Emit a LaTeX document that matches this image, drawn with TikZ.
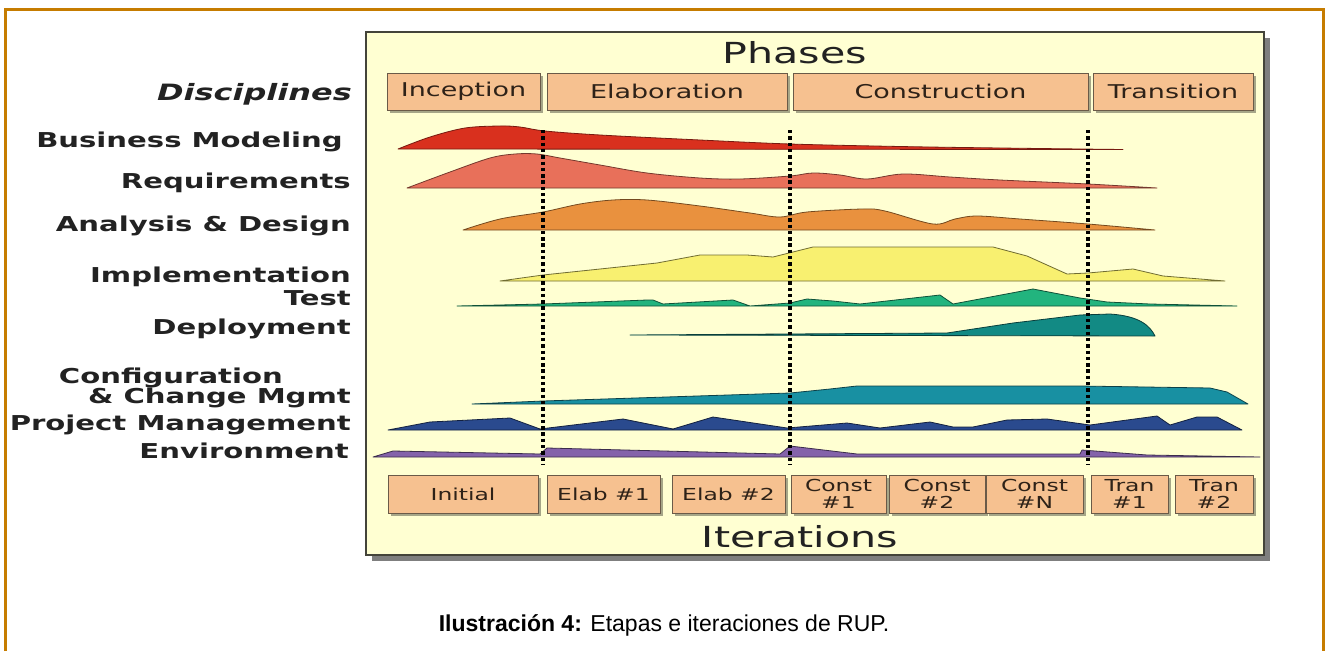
\documentclass[tikz,border=0pt]{standalone}
\usepackage{fontspec}
\usepackage{xcolor}
\usepackage{tikz}
\usetikzlibrary{shadows}
\newfontfamily\rupfont[FakeStretch=1.42]{DejaVu Sans}
\newfontfamily\capfont{Liberation Sans}
\definecolor{frameline}{HTML}{C67C00}
\definecolor{panelfill}{HTML}{FFFFD2}
\definecolor{panelline}{HTML}{44443A}
\definecolor{boxfill}{HTML}{F6C190}
\definecolor{boxline}{HTML}{6A5A48}
\definecolor{labeltext}{HTML}{222222}
\definecolor{boxtext}{HTML}{2E2218}
\definecolor{bmred}{HTML}{D9301E}
\definecolor{reqsalmon}{HTML}{E8705A}
\definecolor{adorange}{HTML}{E9913E}
\definecolor{implyellow}{HTML}{F8F070}
\definecolor{testgreen}{HTML}{22B47E}
\definecolor{depteal}{HTML}{128A84}
\definecolor{cfgblue}{HTML}{1890A2}
\definecolor{pmblue}{HTML}{2A4A8E}
\definecolor{envpurple}{HTML}{8462AA}
\newcommand{\discfont}{\rupfont\bfseries\fontsize{20.5}{21}\selectfont}
\newcommand{\phasefont}{\rupfont\fontsize{19}{20}\selectfont}
\newcommand{\iterfont}{\rupfont\fontsize{16.5}{17}\selectfont}
\newcommand{\titlefont}{\rupfont\fontsize{29}{30}\selectfont}
\tikzset{
  frame/.style={draw=frameline,line width=3pt},
  panel/.style={fill=panelfill,draw=panelline,line width=2.5pt,
    drop shadow={shadow xshift=6pt,shadow yshift=-6pt,opacity=0.5,fill=black}},
  phasebox/.style={draw=boxline,fill=boxfill,line width=1pt,minimum height=37pt,
    inner sep=0pt,font=\phasefont,text=boxtext,
    drop shadow={shadow xshift=3pt,shadow yshift=-3pt,opacity=0.35,fill=black}},
  iterbox/.style={phasebox,minimum height=38pt,font=\iterfont,align=center},
  title/.style={anchor=base,inner sep=0pt,font=\titlefont,text=labeltext},
  disc/.style={anchor=base east,inner sep=0pt,font=\discfont,text=labeltext,align=right},
  flow/.style={line width=0.8pt,line join=round},
  phaseline/.style={line width=3.4pt,dash pattern=on 3.4pt off 2.9pt},
  caption/.style={anchor=base,inner sep=0pt,font=\capfont\fontsize{23}{25}\selectfont},
}
\begin{document}
\begin{tikzpicture}[x=1pt,y=-1pt]
  \useasboundingbox (0,0) rectangle (1325,651);
  \fill[white] (0,0) rectangle (1325,651);
  \draw[frame] (5.5,651) |- (1323.5,9.5) -- (1323.5,651);
  \draw[panel] (366,32) rectangle (1264,555);
  % phases
  \node[title] (phases) at (795,63) {Phases};
  \node[phasebox,minimum width=153pt] (inc) at (463.5,91.5) {Inception};
  \node[phasebox,minimum width=240pt] (ela) at (667,91.5) {Elaboration};
  \node[phasebox,minimum width=295pt] (con) at (940.5,91.5) {Construction};
  \node[phasebox,minimum width=160pt] (tra) at (1173,91.5) {Transition};
  % disciplines
  \node[disc,font=\rupfont\bfseries\itshape\fontsize{22.5}{23}\selectfont] (dis) at (352,100) {Disciplines};
  \node[disc] (bm) at (343,147) {Business Modeling};
  \node[disc] (req) at (351,188) {Requirements};
  \node[disc] (ad) at (351,231) {Analysis \& Design};
  \node[disc] (impl) at (351,282) {Implementation};
  \node[disc] (test) at (351,305) {Test};
  \node[disc] (dep) at (351,334) {Deployment};
  \node[disc] (cfg) at (283,383) {Configuration};
  \node[disc] (ccm) at (351,403) {\& Change Mgmt};
  \node[disc] (pm) at (351,430) {Project Management};
  \node[disc] (env) at (349,458) {Environment};
  % workflow humps
  \filldraw[flow,fill=bmred,draw=bmred!55!black] plot[smooth,tension=0.55] coordinates {
    (398,149) (430,137) (465,128) (500,126) (520,127) (545,131) (600,135)
    (700,140) (790,144) (900,146.5) (1000,148) (1123,149.5)} -- cycle;
  \filldraw[flow,fill=reqsalmon,draw=reqsalmon!50!black] plot[smooth,tension=0.55] coordinates {
    (407,188) (450,172) (490,158) (515,154) (537,154) (560,158) (600,165)
    (647,173) (700,178) (740,179) (790,176) (813,173) (840,175) (867,179)
    (903,174) (950,177) (1000,180) (1088,184) (1157,188)} -- cycle;
  \filldraw[flow,fill=adorange,draw=adorange!50!black] plot[smooth,tension=0.55] coordinates {
    (463,230) (500,219) (543,212) (580,204) (613,200) (647,200) (700,206)
    (750,213) (780,217) (807,212) (863,209) (885,211) (933,224) (955,219)
    (977,216) (1020,219) (1088,224) (1155,230)} -- cycle;
  \filldraw[flow,fill=implyellow,draw=implyellow!45!black] (500,281) -- (543,275)
    -- (657,263) -- (700,255) -- (747,255) -- (773,257) -- (813,247) -- (993,247)
    -- (1027,256) -- (1067,274) -- (1088,273) -- (1133,269) -- (1163,276)
    -- (1225,281) -- cycle;
  \filldraw[flow,fill=testgreen,draw=testgreen!45!black] (457,306) -- (543,304)
    -- (647,300) -- (653,300) -- (663,304) -- (733,300) -- (750,306) -- (790,303)
    -- (807,299) -- (833,301) -- (860,304) -- (940,295) -- (953,304) -- (1033,289)
    -- (1080,298) -- (1107,302) -- (1150,304) -- (1237,306) -- cycle;
  \filldraw[flow,fill=depteal,draw=depteal!45!black] (630,335) -- (947,333)
    -- (1013,323) -- (1080,315) -- (1110,314) .. controls (1140,316) and (1150,326) .. (1155,336)
    -- cycle;
  \filldraw[flow,fill=cfgblue,draw=cfgblue!45!black] (472,404) -- (543,401)
    -- (790,393) -- (830,389) -- (857,386) -- (1080,386) -- (1210,388)
    -- (1227,392) -- (1248,404) -- cycle;
  \filldraw[flow,fill=pmblue,draw=pmblue!45!black] (388,430) -- (430,422)
    -- (510,418) -- (540,429) -- (623,419) -- (673,429) -- (713,417) -- (787,428)
    -- (847,423) -- (880,428) -- (930,422) -- (953,427) -- (973,427) -- (1007,420)
    -- (1047,419) -- (1090,425) -- (1157,416) -- (1170,425) -- (1197,417)
    -- (1217,417) -- (1242,430) -- cycle;
  \filldraw[flow,fill=envpurple,draw=envpurple!45!black] (373,457) -- (393,451)
    -- (540,454) -- (547,448) -- (780,454) -- (790,446) -- (857,454) -- (1080,454)
    -- (1082,450) -- (1147,455) -- (1260,457) -- cycle;
  % phase borders
  \draw[phaseline] (543,130) -- (543,465);
  \draw[phaseline] (790,130) -- (790,465);
  \draw[phaseline] (1088,130) -- (1088,465);
  % iterations
  \node[iterbox,minimum width=150pt] (ini) at (463,494) {Initial};
  \node[iterbox,minimum width=113pt] (el1) at (603.5,494) {Elab \#1};
  \node[iterbox,minimum width=113pt] (el2) at (728.5,494) {Elab \#2};
  \node[iterbox,minimum width=95pt] (co1) at (838.5,494) {Const\\\#1};
  \node[iterbox,minimum width=96pt] (co2) at (937,494) {Const\\\#2};
  \node[iterbox,minimum width=97pt] (con) at (1034.5,494) {Const\\\#N};
  \node[iterbox,minimum width=77pt] (tr1) at (1129.5,494) {Tran\\\#1};
  \node[iterbox,minimum width=78pt] (tr2) at (1214,494) {Tran\\\#2};
  \node[title] (iters) at (800,547) {Iterations};
  % caption
  \node[caption] (cap) at (664,631) {\textbf{Ilustración 4:} Etapas e iteraciones de RUP.};
\end{tikzpicture}
\end{document}
